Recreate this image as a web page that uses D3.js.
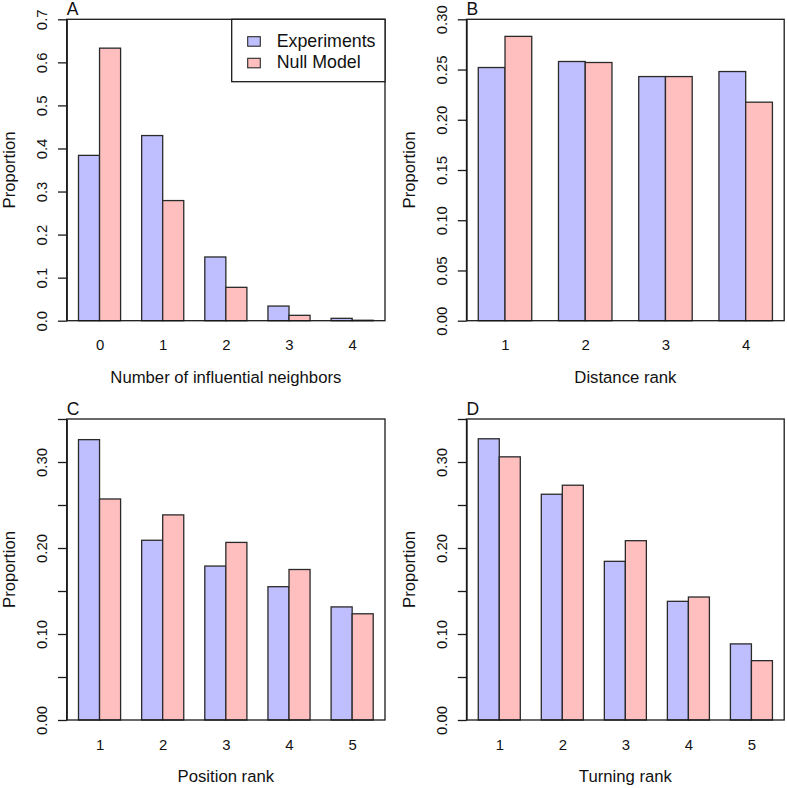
<!DOCTYPE html>
<html>
<head>
<meta charset="utf-8">
<script src="https://cdn.jsdelivr.net/npm/d3@7"></script>
<style>
  html, body { margin: 0; padding: 0; background: #fff; }
  svg { display: block; font-family: "Liberation Sans", Arial, sans-serif; }
</style>
</head>
<body>
<svg id="chart" width="787" height="788"></svg>
<script>
// ---- data ----
const seriesNames = ["Experiments", "Null Model"];
const seriesColors = ["#bfbfff", "#ffbfbf"];

const catsA = ["0", "1", "2", "3", "4"];
const expA  = [0.384, 0.430, 0.148, 0.034, 0.0055];
const nullA = [0.633, 0.279, 0.0775, 0.0125, 0.001];
const ticksA = [0, 0.1, 0.2, 0.3, 0.4, 0.5, 0.6, 0.7];
const tickLabelsA = ["0.0", "0.1", "0.2", "0.3", "0.4", "0.5", "0.6", "0.7"];

const catsB = ["1", "2", "3", "4"];
const expB  = [0.252, 0.258, 0.243, 0.248];
const nullB = [0.283, 0.257, 0.243, 0.2175];
const ticksB = [0, 0.05, 0.10, 0.15, 0.20, 0.25, 0.30];
const tickLabelsB = ["0.00", "0.05", "0.10", "0.15", "0.20", "0.25", "0.30"];

const catsC = ["1", "2", "3", "4", "5"];
const expC  = [0.326, 0.209, 0.179, 0.155, 0.1315];
const nullC = [0.257, 0.2385, 0.2065, 0.175, 0.1235];
const ticksC = [0, 0.05, 0.10, 0.15, 0.20, 0.25, 0.30, 0.35];
const tickLabelsC = ["0.00", "", "0.10", "", "0.20", "", "0.30", ""];

const catsD = ["1", "2", "3", "4", "5"];
const expD  = [0.327, 0.2625, 0.1845, 0.138, 0.0885];
const nullD = [0.306, 0.273, 0.2085, 0.143, 0.069];
const ticksD = [0, 0.05, 0.10, 0.15, 0.20, 0.25, 0.30, 0.35];
const tickLabelsD = ["0.00", "", "0.10", "", "0.20", "", "0.30", ""];

const panels = [
  { letter: "A", xlab: "Number of influential neighbors", cats: catsA, exp: expA, nul: nullA, ticks: ticksA, tickLabels: tickLabelsA, ymax: 0.7, legend: true,
    box: { l: 66.7, t: 19.3, r: 385, b: 320.7 } },
  { letter: "B", xlab: "Distance rank", cats: catsB, exp: expB, nul: nullB, ticks: ticksB, tickLabels: tickLabelsB, ymax: 0.30, legend: false,
    box: { l: 466.5, t: 19.3, r: 784.2, b: 320.7 } },
  { letter: "C", xlab: "Position rank", cats: catsC, exp: expC, nul: nullC, ticks: ticksC, tickLabels: tickLabelsC, ymax: 0.35, legend: false,
    box: { l: 66.7, t: 419, r: 385, b: 720 } },
  { letter: "D", xlab: "Turning rank", cats: catsD, exp: expD, nul: nullD, ticks: ticksD, tickLabels: tickLabelsD, ymax: 0.35, legend: false,
    box: { l: 466.5, t: 419, r: 784.2, b: 720 } }
];

const svg = d3.select("#chart");
const ink = "#1a1a1a";
const lw = 1.3;

panels.forEach(p => {
  const n = p.cats.length;
  const W = 3 * n - 1;               // bars span [1, 3n]
  const x = d3.scaleLinear().domain([1 - 0.04 * W, 3 * n + 0.04 * W]).range([p.box.l, p.box.r]);
  const y = d3.scaleLinear().domain([0, p.ymax]).range([p.box.b, p.box.t]);
  const g = svg.append("g");

  // bars
  const bars = [];
  p.cats.forEach((c, i) => {
    bars.push({ x0: 1 + 3 * i, v: p.exp[i], s: 0 });
    bars.push({ x0: 2 + 3 * i, v: p.nul[i], s: 1 });
  });
  g.selectAll("rect.bar").data(bars).join("rect")
    .attr("class", "bar")
    .attr("x", d => x(d.x0))
    .attr("width", d => x(d.x0 + 1) - x(d.x0))
    .attr("y", d => y(d.v))
    .attr("height", d => y(0) - y(d.v))
    .attr("fill", d => seriesColors[d.s])
    .attr("stroke", "#2a2a2a")
    .attr("stroke-width", lw);

  // box
  g.append("rect")
    .attr("x", p.box.l).attr("y", p.box.t)
    .attr("width", p.box.r - p.box.l).attr("height", p.box.b - p.box.t)
    .attr("fill", "none").attr("stroke", ink).attr("stroke-width", lw);

  // y axis
  const yAxis = d3.axisLeft(y).tickValues(p.ticks).tickSize(8.7).tickSizeOuter(0)
    .tickFormat((d, i) => p.tickLabels[i]);
  const ya = g.append("g").attr("transform", `translate(${p.box.l},0)`).call(yAxis);
  ya.select(".domain").attr("stroke", ink).attr("stroke-width", lw);
  ya.selectAll(".tick line").attr("stroke", ink).attr("stroke-width", lw);
  ya.selectAll(".tick text")
    .attr("x", null).attr("dy", null)
    .attr("transform", "translate(-20,0) rotate(-90)")
    .attr("text-anchor", "middle")
    .attr("fill", "#111")
    .style("font-size", "14.9px")
    .style("font-family", "'Liberation Sans', Arial, sans-serif");

  // x category labels
  const xb = d3.axisBottom(x).tickValues(p.cats.map((c, i) => 2 + 3 * i))
    .tickFormat((d, i) => p.cats[i]).tickSize(0);
  const xa = g.append("g").attr("transform", `translate(0,${p.box.b})`).call(xb);
  xa.select(".domain").remove();
  xa.selectAll(".tick text")
    .attr("y", 29.5).attr("dy", null)
    .attr("fill", "#111")
    .style("font-size", "14.9px")
    .style("font-family", "'Liberation Sans', Arial, sans-serif");

  // x title
  g.append("text")
    .attr("x", (p.box.l + p.box.r) / 2).attr("y", p.box.b + 62)
    .attr("text-anchor", "middle").attr("fill", "#111")
    .style("font-size", "16.7px")
    .text(p.xlab);

  // y title
  g.append("text")
    .attr("transform", `translate(${p.box.l - 51.5},${(p.box.t + p.box.b) / 2}) rotate(-90)`)
    .attr("text-anchor", "middle").attr("fill", "#111")
    .style("font-size", "16.7px")
    .text("Proportion");

  // panel letter
  g.append("text")
    .attr("x", p.box.l).attr("y", p.box.t - 4.2)
    .attr("fill", "#111")
    .style("font-size", "17.5px")
    .text(p.letter);

  // legend
  if (p.legend) {
    const lg = g.append("g");
    const lx = 231.7, ly = p.box.t;
    lg.append("rect").attr("x", lx).attr("y", ly)
      .attr("width", p.box.r - lx).attr("height", 81.7 - ly)
      .attr("fill", "#fff").attr("stroke", ink).attr("stroke-width", lw);
    seriesNames.forEach((s, i) => {
      const base = 46.7 + i * 21.6;
      lg.append("rect").attr("x", 247.7).attr("y", base - 10)
        .attr("width", 12.6).attr("height", 9.5)
        .attr("fill", seriesColors[i]).attr("stroke", "#2a2a2a").attr("stroke-width", 1.1);
      lg.append("text").attr("x", 276.7).attr("y", base)
        .attr("fill", "#111").style("font-size", "17.8px").text(s);
    });
  }
});
</script>
</body>
</html>
